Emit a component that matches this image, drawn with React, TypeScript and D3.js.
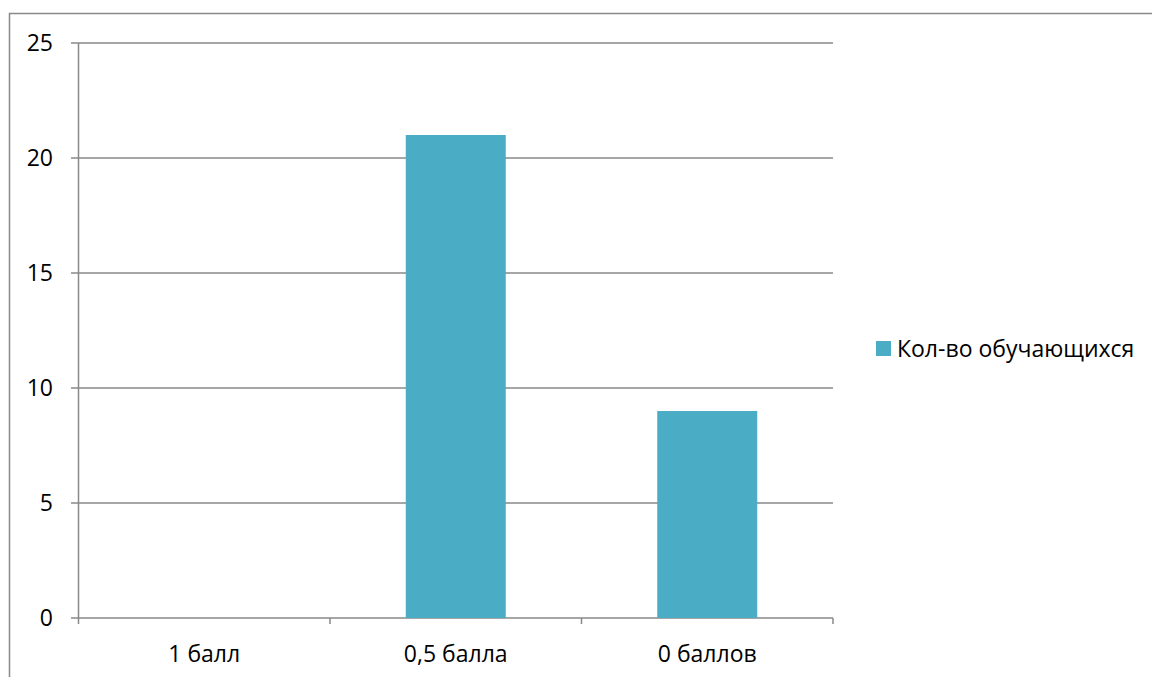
import React from "react";
import * as d3 from "d3";

const categories = ["1 балл", "0,5 балла", "0 баллов"];
const values = [0, 21, 9];
const seriesName = "Кол-во обучающихся";
const yTicks = [0, 5, 10, 15, 20, 25];

export default function App() {
  const W = 1152, H = 677;
  const left = 78.5, right = 833, top = 43, bottom = 618;
  const x = d3.scaleBand<string>().domain(categories).range([left, right]).paddingInner(0).paddingOuter(0);
  const y = d3.scaleLinear().domain([0, 25]).range([bottom, top]);
  const barW = 100;
  const font = "'Open Sans', sans-serif";
  const fs = 23;
  const grid = "#898989";
  const color = "#4BACC6";
  return (
    <svg width={W} height={H} style={{ position: "fixed", left: 0, top: 0, background: "#fff", display: "block", overflow: "hidden" }} fontFamily={font}>
      <path d={`M9.5,${H + 5}V13.5H${W + 5}`} fill="none" stroke={grid} strokeWidth={1.5} />
      {yTicks.map((t) => (
        <g key={t}>
          <line x1={71} x2={right} y1={y(t)} y2={y(t)} stroke={grid} strokeWidth={1.5} />
          <text x={53} y={y(t)} dy="0.36em" textAnchor="end" fontSize={fs} fill="#000">{t}</text>
        </g>
      ))}
      <line x1={left} x2={left} y1={top} y2={bottom + 6} stroke={grid} strokeWidth={1.5} />
      {categories.map((c, i) => (
        <line key={"t" + i} x1={(x(c) as number) + x.bandwidth()} x2={(x(c) as number) + x.bandwidth()} y1={bottom} y2={bottom + 6} stroke={grid} strokeWidth={1.5} />
      ))}
      {categories.map((c, i) => {
        const cx = (x(c) as number) + x.bandwidth() / 2;
        return (
          <g key={c}>
            {values[i] > 0 && (
              <rect x={cx - barW / 2} y={y(values[i])} width={barW} height={y(0) - y(values[i])} fill={color} />
            )}
            <text x={cx} y={662} textAnchor="middle" fontSize={fs} fill="#000">{c}</text>
          </g>
        );
      })}
      <rect x={876} y={341} width={15} height={15} fill={color} />
      <text x={897} y={357} fontSize={fs} fill="#000">{seriesName}</text>
    </svg>
  );
}
